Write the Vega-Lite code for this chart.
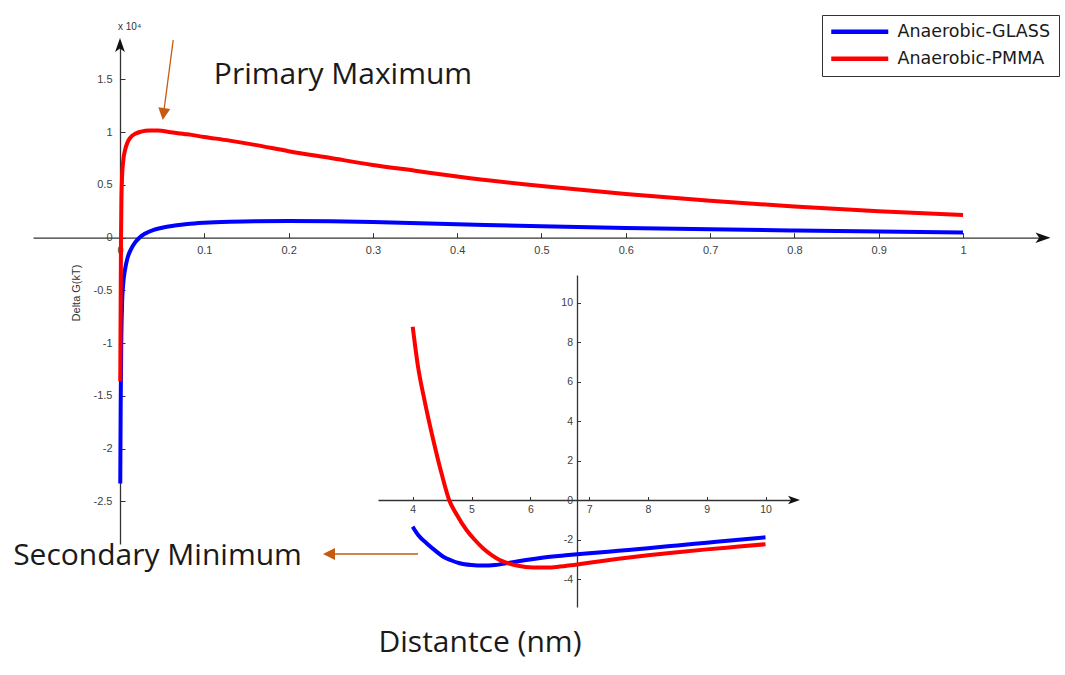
{
  "$schema": "https://vega.github.io/schema/vega-lite/v6.json",
  "width": 1065,
  "height": 675,
  "padding": 0,
  "autosize": {"type": "none"},
  "background": "white",
  "config": {"view": {"stroke": null}},
  "datasets": {
    "main": [
      {"series": "Anaerobic-GLASS", "dist": 0.0003, "dG": -2.33},
      {"series": "Anaerobic-GLASS", "dist": 0.0008, "dG": -1.6},
      {"series": "Anaerobic-GLASS", "dist": 0.0015, "dG": -1.0},
      {"series": "Anaerobic-GLASS", "dist": 0.0025, "dG": -0.62},
      {"series": "Anaerobic-GLASS", "dist": 0.004, "dG": -0.42},
      {"series": "Anaerobic-GLASS", "dist": 0.006, "dG": -0.3},
      {"series": "Anaerobic-GLASS", "dist": 0.009, "dG": -0.19},
      {"series": "Anaerobic-GLASS", "dist": 0.013, "dG": -0.11},
      {"series": "Anaerobic-GLASS", "dist": 0.018, "dG": -0.045},
      {"series": "Anaerobic-GLASS", "dist": 0.023, "dG": 0.0},
      {"series": "Anaerobic-GLASS", "dist": 0.03, "dG": 0.04},
      {"series": "Anaerobic-GLASS", "dist": 0.04, "dG": 0.075},
      {"series": "Anaerobic-GLASS", "dist": 0.05, "dG": 0.095},
      {"series": "Anaerobic-GLASS", "dist": 0.065, "dG": 0.115},
      {"series": "Anaerobic-GLASS", "dist": 0.08, "dG": 0.13},
      {"series": "Anaerobic-GLASS", "dist": 0.1, "dG": 0.142},
      {"series": "Anaerobic-GLASS", "dist": 0.13, "dG": 0.152},
      {"series": "Anaerobic-GLASS", "dist": 0.16, "dG": 0.157},
      {"series": "Anaerobic-GLASS", "dist": 0.2, "dG": 0.158},
      {"series": "Anaerobic-GLASS", "dist": 0.25, "dG": 0.155},
      {"series": "Anaerobic-GLASS", "dist": 0.3, "dG": 0.148},
      {"series": "Anaerobic-GLASS", "dist": 0.4, "dG": 0.128},
      {"series": "Anaerobic-GLASS", "dist": 0.5, "dG": 0.108},
      {"series": "Anaerobic-GLASS", "dist": 0.6, "dG": 0.092},
      {"series": "Anaerobic-GLASS", "dist": 0.7, "dG": 0.079},
      {"series": "Anaerobic-GLASS", "dist": 0.8, "dG": 0.068},
      {"series": "Anaerobic-GLASS", "dist": 0.9, "dG": 0.058},
      {"series": "Anaerobic-GLASS", "dist": 1.0, "dG": 0.05},
      {"series": "Anaerobic-PMMA", "dist": 0.0003, "dG": -1.36},
      {"series": "Anaerobic-PMMA", "dist": 0.0008, "dG": -0.6},
      {"series": "Anaerobic-PMMA", "dist": 0.0012, "dG": 0.0},
      {"series": "Anaerobic-PMMA", "dist": 0.0018, "dG": 0.4},
      {"series": "Anaerobic-PMMA", "dist": 0.0025, "dG": 0.58},
      {"series": "Anaerobic-PMMA", "dist": 0.004, "dG": 0.74},
      {"series": "Anaerobic-PMMA", "dist": 0.006, "dG": 0.83},
      {"series": "Anaerobic-PMMA", "dist": 0.009, "dG": 0.905},
      {"series": "Anaerobic-PMMA", "dist": 0.013, "dG": 0.955},
      {"series": "Anaerobic-PMMA", "dist": 0.018, "dG": 0.985},
      {"series": "Anaerobic-PMMA", "dist": 0.025, "dG": 1.005},
      {"series": "Anaerobic-PMMA", "dist": 0.035, "dG": 1.015},
      {"series": "Anaerobic-PMMA", "dist": 0.045, "dG": 1.015},
      {"series": "Anaerobic-PMMA", "dist": 0.06, "dG": 1.0},
      {"series": "Anaerobic-PMMA", "dist": 0.08, "dG": 0.98},
      {"series": "Anaerobic-PMMA", "dist": 0.1, "dG": 0.955},
      {"series": "Anaerobic-PMMA", "dist": 0.13, "dG": 0.92},
      {"series": "Anaerobic-PMMA", "dist": 0.16, "dG": 0.88},
      {"series": "Anaerobic-PMMA", "dist": 0.2, "dG": 0.82},
      {"series": "Anaerobic-PMMA", "dist": 0.25, "dG": 0.755},
      {"series": "Anaerobic-PMMA", "dist": 0.3, "dG": 0.69},
      {"series": "Anaerobic-PMMA", "dist": 0.35, "dG": 0.635},
      {"series": "Anaerobic-PMMA", "dist": 0.4, "dG": 0.58},
      {"series": "Anaerobic-PMMA", "dist": 0.5, "dG": 0.49},
      {"series": "Anaerobic-PMMA", "dist": 0.6, "dG": 0.415},
      {"series": "Anaerobic-PMMA", "dist": 0.7, "dG": 0.35},
      {"series": "Anaerobic-PMMA", "dist": 0.8, "dG": 0.295},
      {"series": "Anaerobic-PMMA", "dist": 0.9, "dG": 0.25},
      {"series": "Anaerobic-PMMA", "dist": 1.0, "dG": 0.215}
    ],
    "inset": [
      {"series": "Anaerobic-GLASS", "dist": 4.0, "dG": -1.35},
      {"series": "Anaerobic-GLASS", "dist": 4.1, "dG": -1.8},
      {"series": "Anaerobic-GLASS", "dist": 4.24, "dG": -2.2},
      {"series": "Anaerobic-GLASS", "dist": 4.4, "dG": -2.6},
      {"series": "Anaerobic-GLASS", "dist": 4.52, "dG": -2.87},
      {"series": "Anaerobic-GLASS", "dist": 4.65, "dG": -3.05},
      {"series": "Anaerobic-GLASS", "dist": 4.8, "dG": -3.2},
      {"series": "Anaerobic-GLASS", "dist": 5.0, "dG": -3.29},
      {"series": "Anaerobic-GLASS", "dist": 5.2, "dG": -3.32},
      {"series": "Anaerobic-GLASS", "dist": 5.4, "dG": -3.29},
      {"series": "Anaerobic-GLASS", "dist": 5.65, "dG": -3.18},
      {"series": "Anaerobic-GLASS", "dist": 5.9, "dG": -3.05},
      {"series": "Anaerobic-GLASS", "dist": 6.2, "dG": -2.92},
      {"series": "Anaerobic-GLASS", "dist": 6.6, "dG": -2.8},
      {"series": "Anaerobic-GLASS", "dist": 7.0, "dG": -2.7},
      {"series": "Anaerobic-GLASS", "dist": 7.5, "dG": -2.57},
      {"series": "Anaerobic-GLASS", "dist": 8.0, "dG": -2.44},
      {"series": "Anaerobic-GLASS", "dist": 8.5, "dG": -2.3},
      {"series": "Anaerobic-GLASS", "dist": 9.0, "dG": -2.16},
      {"series": "Anaerobic-GLASS", "dist": 9.5, "dG": -2.02},
      {"series": "Anaerobic-GLASS", "dist": 10.0, "dG": -1.89},
      {"series": "Anaerobic-PMMA", "dist": 4.0, "dG": 8.77},
      {"series": "Anaerobic-PMMA", "dist": 4.09, "dG": 6.76},
      {"series": "Anaerobic-PMMA", "dist": 4.2, "dG": 5.06},
      {"series": "Anaerobic-PMMA", "dist": 4.35, "dG": 3.04},
      {"series": "Anaerobic-PMMA", "dist": 4.49, "dG": 1.35},
      {"series": "Anaerobic-PMMA", "dist": 4.62, "dG": 0.0},
      {"series": "Anaerobic-PMMA", "dist": 4.75, "dG": -0.75},
      {"series": "Anaerobic-PMMA", "dist": 4.915, "dG": -1.52},
      {"series": "Anaerobic-PMMA", "dist": 5.05, "dG": -2.0},
      {"series": "Anaerobic-PMMA", "dist": 5.2, "dG": -2.45},
      {"series": "Anaerobic-PMMA", "dist": 5.35, "dG": -2.8},
      {"series": "Anaerobic-PMMA", "dist": 5.48, "dG": -3.04},
      {"series": "Anaerobic-PMMA", "dist": 5.62, "dG": -3.2},
      {"series": "Anaerobic-PMMA", "dist": 5.77, "dG": -3.32},
      {"series": "Anaerobic-PMMA", "dist": 6.05, "dG": -3.42},
      {"series": "Anaerobic-PMMA", "dist": 6.3, "dG": -3.42},
      {"series": "Anaerobic-PMMA", "dist": 6.5, "dG": -3.37},
      {"series": "Anaerobic-PMMA", "dist": 7.0, "dG": -3.18},
      {"series": "Anaerobic-PMMA", "dist": 7.5, "dG": -2.98},
      {"series": "Anaerobic-PMMA", "dist": 8.0, "dG": -2.8},
      {"series": "Anaerobic-PMMA", "dist": 8.5, "dG": -2.64},
      {"series": "Anaerobic-PMMA", "dist": 9.0, "dG": -2.5},
      {"series": "Anaerobic-PMMA", "dist": 9.5, "dG": -2.37},
      {"series": "Anaerobic-PMMA", "dist": 10.0, "dG": -2.24}
    ],
    "one": [{}]
  },
  "layer": [
    {
      "layer": [
        {
          "data": {"name": "main"},
          "mark": {"type": "line", "strokeWidth": 4, "clip": false, "interpolate": "monotone"},
          "encoding": {
            "x": {
              "field": "dist", "type": "quantitative",
              "scale": {"domain": [-0.1032, 1.09134], "range": [33, 1040], "nice": false, "zero": false},
              "axis": {
                "orient": "bottom", "offset": -437.3, "title": null, "grid": false,
                "values": [0, 0.1, 0.2, 0.3, 0.4, 0.5, 0.6, 0.7, 0.8, 0.9, 1],
                "labelExpr": "'' + datum.value",
                "tickSize": -5, "tickColor": "#333", "tickWidth": 1,
                "domainColor": "#333", "domainWidth": 1.3,
                "labelFont": "Liberation Sans", "labelFontSize": 11, "labelColor": "#404040",
                "labelPadding": 12, "labelFlush": false, "labelOverlap": false
              }
            },
            "y": {
              "field": "dG", "type": "quantitative",
              "scale": {"domain": [-2.90332, 1.85498], "range": [544, 42], "nice": false, "zero": false},
              "axis": {
                "orient": "left", "offset": -120, "title": null, "grid": false,
                "values": [-2.5, -2, -1.5, -1, -0.5, 0, 0.5, 1, 1.5],
                "labelExpr": "'' + datum.value",
                "tickSize": -5, "tickColor": "#333", "tickWidth": 1,
                "domainColor": "#333", "domainWidth": 1.3,
                "labelFont": "Liberation Sans", "labelFontSize": 11, "labelColor": "#404040",
                "labelPadding": 13, "labelFlush": false, "labelOverlap": false
              }
            },
            "color": {
              "field": "series", "type": "nominal",
              "scale": {"domain": ["Anaerobic-GLASS", "Anaerobic-PMMA"], "range": ["#0000ff", "#ff0000"]},
              "legend": {
                "orient": "none", "legendX": 822, "legendY": 15, "title": null,
                "symbolType": "M-5.7,0H5.7", "symbolSize": 100, "symbolStrokeWidth": 4.5,
                "symbolOffset": 21,
                "labelFont": "DejaVu Sans", "labelFontSize": 17.5, "labelColor": "#1a1a1a",
                "padding": 8, "strokeColor": "#333", "fillColor": "white",
                "rowPadding": 8, "labelOffset": 29
              }
            }
          }
        },
        {
          "data": {"name": "one"},
          "mark": {"type": "point", "shape": "M1,0L-1,-0.7L-0.5,0L-1,0.7Z", "filled": true, "color": "#111", "opacity": 1, "size": 225},
          "encoding": {"x": {"datum": 1.0949}, "y": {"datum": 0}}
        },
        {
          "data": {"name": "one"},
          "mark": {"type": "point", "shape": "M0,-1L-0.7,1L0,0.5L0.7,1Z", "filled": true, "color": "#111", "opacity": 1, "size": 196},
          "encoding": {"x": {"datum": 0}, "y": {"datum": 1.8265}}
        },
        {
          "data": {"name": "one"},
          "mark": {"type": "rule", "color": "#c55a11", "strokeWidth": 1.3},
          "encoding": {"x": {"datum": 0.06311}, "y": {"datum": 1.87393}, "x2": {"datum": 0.0516}, "y2": {"datum": 1.1725}}
        },
        {
          "data": {"name": "one"},
          "mark": {"type": "point", "shape": "M1,0L-1,-1L-1,1Z", "filled": true, "color": "#c55a11", "opacity": 1, "size": 144, "angle": 97.5},
          "encoding": {"x": {"datum": 0.0516}, "y": {"datum": 1.17204}}
        },
        {
          "data": {"name": "one"},
          "mark": {"type": "rule", "color": "#c55a11", "strokeWidth": 1.3},
          "encoding": {"x": {"datum": 0.3535}, "y": {"datum": -2.9981}, "x2": {"datum": 0.24792}, "y2": {"datum": -2.9981}}
        },
        {
          "data": {"name": "one"},
          "mark": {"type": "point", "shape": "M1,0L-1,-1L-1,1Z", "filled": true, "color": "#c55a11", "opacity": 1, "size": 144, "angle": 180},
          "encoding": {"x": {"datum": 0.24792}, "y": {"datum": -2.9981}}
        },
        {
          "data": {"name": "one"},
          "mark": {"type": "text", "text": "Primary Maximum", "font": "Open Sans", "fontSize": 30, "color": "#1a1a1a", "align": "center", "baseline": "middle"},
          "encoding": {"x": {"datum": 0.26453}, "y": {"datum": 1.54218}}
        },
        {
          "data": {"name": "one"},
          "mark": {"type": "text", "text": "Secondary Minimum", "font": "Open Sans", "fontSize": 30, "color": "#1a1a1a", "align": "center", "baseline": "middle"},
          "encoding": {"x": {"datum": 0.04448}, "y": {"datum": -3.01706}}
        },
        {
          "data": {"name": "one"},
          "mark": {"type": "text", "text": "Distantce (nm)", "font": "Open Sans", "fontSize": 30, "color": "#1a1a1a", "align": "center", "baseline": "middle"},
          "encoding": {"x": {"datum": 0.42705}, "y": {"datum": -3.84171}}
        },
        {
          "data": {"name": "one"},
          "mark": {"type": "text", "text": "x 10⁴", "font": "Liberation Sans", "fontSize": 10, "color": "#333", "align": "left", "baseline": "middle"},
          "encoding": {"x": {"datum": -0.00237}, "y": {"datum": 1.99716}}
        },
        {
          "data": {"name": "one"},
          "mark": {"type": "text", "text": "Delta G(kT)", "font": "Liberation Sans", "fontSize": 11, "color": "#333", "align": "center", "baseline": "middle", "angle": 270},
          "encoding": {"x": {"datum": -0.05101}, "y": {"datum": -0.5242}}
        }
      ]
    },
    {
      "layer": [
        {
          "data": {"name": "inset"},
          "mark": {"type": "line", "strokeWidth": 4, "clip": false, "interpolate": "monotone"},
          "encoding": {
            "x": {
              "field": "dist", "type": "quantitative",
              "scale": {"domain": [3.40986, 10.5017], "range": [378, 795], "nice": false, "zero": false},
              "axis": {
                "orient": "bottom", "offset": -175, "title": null, "grid": false,
                "values": [4, 5, 6, 7, 8, 9, 10],
                "labelExpr": "'' + datum.value",
                "tickSize": -3.5, "tickColor": "#333", "tickWidth": 1,
                "domainColor": "#333", "domainWidth": 1.3,
                "labelFont": "Liberation Sans", "labelFontSize": 10.5, "labelColor": "#404040",
                "labelPadding": 8, "labelFlush": false, "labelOverlap": false
              }
            },
            "y": {
              "field": "dG", "type": "quantitative",
              "scale": {"domain": [-5.41772, 11.39241], "range": [607, 275], "nice": false, "zero": false},
              "axis": {
                "orient": "left", "offset": -577, "title": null, "grid": false,
                "values": [-4, -2, 0, 2, 4, 6, 8, 10],
                "labelExpr": "'' + datum.value",
                "tickSize": -3.5, "tickColor": "#333", "tickWidth": 1,
                "domainColor": "#333", "domainWidth": 1.3,
                "labelFont": "Liberation Sans", "labelFontSize": 10.5, "labelColor": "#404040",
                "labelPadding": 8, "labelFlush": false, "labelOverlap": false
              }
            },
            "color": {"field": "series", "type": "nominal"}
          }
        },
        {
          "data": {"name": "one"},
          "mark": {"type": "point", "shape": "M1,0L-1,-0.7L-0.5,0L-1,0.7Z", "filled": true, "color": "#111", "opacity": 1, "size": 144},
          "encoding": {"x": {"datum": 10.4847}, "y": {"datum": 0}}
        }
      ]
    }
  ],
  "resolve": {"scale": {"x": "independent", "y": "independent"}}
}
